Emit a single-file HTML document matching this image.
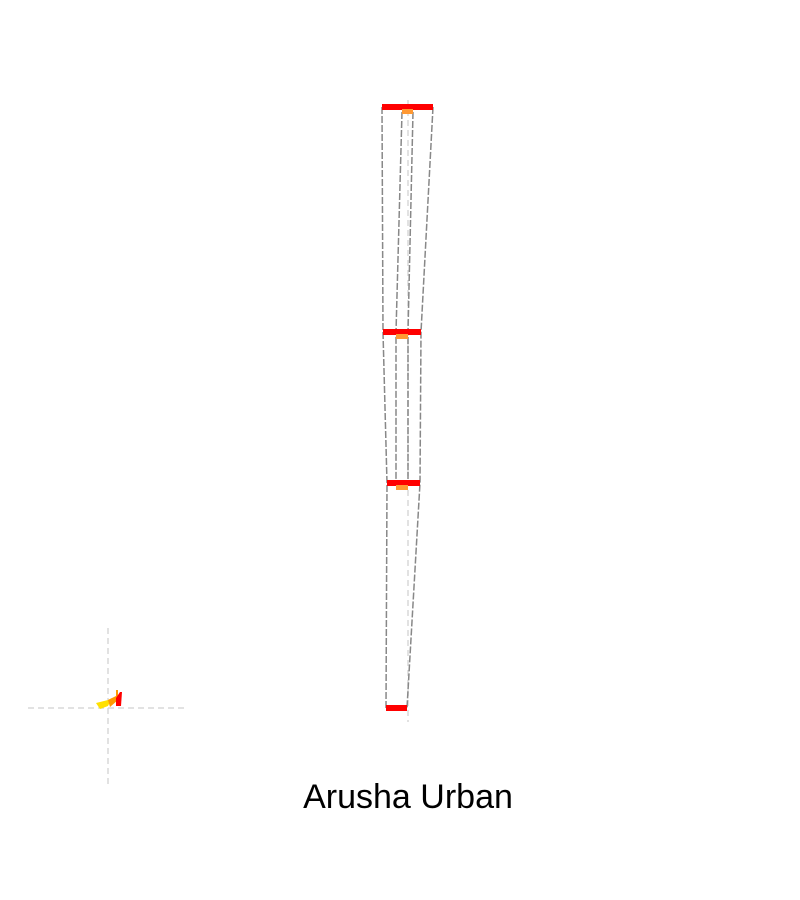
<!DOCTYPE html>
<html><head><meta charset="utf-8"><style>
html,body{margin:0;padding:0;background:#fff;}
svg{display:block;}
</style></head><body>
<svg id="chart" width="800" height="900" viewBox="0 0 800 900">
<g id="axes"></g><g id="marks"></g>
<g>
<path d="M96,703 L108,700 L112,698 L108,706 L100,709 Z" fill="#ffe000"/>
<path d="M108,700 L116,696 L116,690 L118,690 L118,700 L110,707 Z" fill="#ff9a00"/>
<path d="M116,698 L120,692 L122,692 L121,706 L116,706 Z" fill="#ff0000"/>
</g>
<text x="408" y="808" text-anchor="middle" font-family="'Liberation Sans', 'DejaVu Sans', sans-serif" font-size="34" fill="#000">Arusha Urban</text>
</svg>
<script>
const levels = ["top", "upper", "lower", "bottom"];
const levelY = [107, 332, 483, 708];
const outerLeft = [26, 25, 21, 22];
const outerRight = [25, 13, 12, -1];
const innerLeft = [6, 12, 12];
const innerRight = [5, 0, 0];
const cx = 408;
const ns = "http://www.w3.org/2000/svg";
const axes = document.getElementById("axes");
const marks = document.getElementById("marks");
function el(tag, attrs, parent){const e=document.createElementNS(ns,tag);for(const k in attrs)e.setAttribute(k,attrs[k]);parent.appendChild(e);return e;}
function xL(v){return cx - v;}
function xR(v){return cx + v;}
let a = el("line",{x1:cx,y1:100,x2:cx,y2:722,stroke:"#d8d8d8","stroke-dasharray":"6,4","stroke-width":1.5},axes);


let h = el("line",{x1:28,y1:708,x2:188,y2:708,stroke:"#d8d8d8","stroke-dasharray":"6,4","stroke-width":1.5},axes);


let v = el("line",{x1:108,y1:628,x2:108,y2:788,stroke:"#d8d8d8","stroke-dasharray":"6,4","stroke-width":1.5},axes);


function poly(vals, fx, name, dy){
  const pts = vals.map((d,i)=>fx(d)+","+(levelY[i]+(dy&&i===0?5:0))).join(" ");
  const p = el("polyline",{points:pts,fill:"none",stroke:"#888","stroke-width":1.5,"stroke-dasharray":"7,2"},marks);
  
  
}
poly(outerLeft, xL, "outer-left-line");
poly(outerRight, xR, "outer-right-line");
poly(innerLeft, xL, "inner-left-line", true);
poly(innerRight, xR, "inner-right-line", true);
levels.forEach((lv,i)=>{
  const r = el("rect",{x:xL(outerLeft[i]),y:levelY[i]-3,width:outerLeft[i]+outerRight[i],height:6,fill:"#ff0000"},marks);
  
  
  if(i<innerLeft.length){
    const o = el("rect",{x:xL(innerLeft[i]),y:levelY[i]+2,width:innerLeft[i]+innerRight[i],height:5,fill:"#ff9933"},marks);
    
    
  }
});
</script>
</body></html>
